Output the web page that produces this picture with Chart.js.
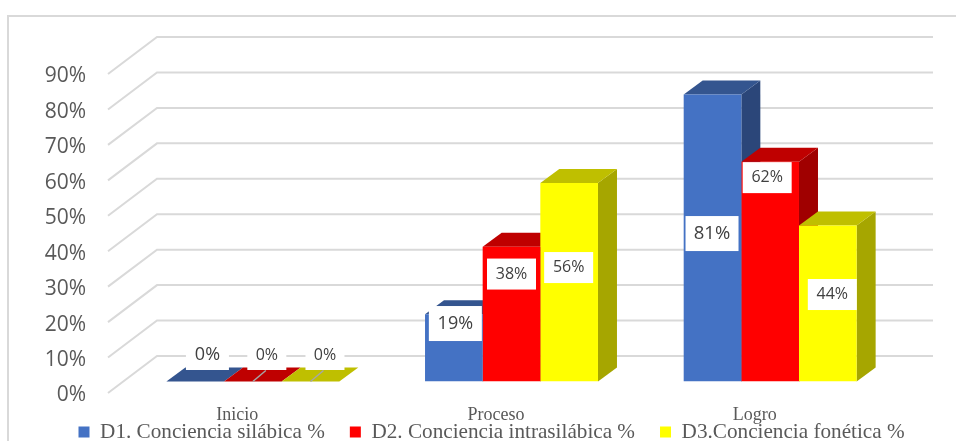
<!DOCTYPE html>
<html><head><meta charset="utf-8">
<style>
html,body{margin:0;padding:0;background:#fff;overflow:hidden}
#wrap{position:relative;width:956px;height:441px;overflow:hidden}
#frame{position:absolute;left:7px;top:15px;width:1000px;height:500px;border:2px solid #d9d9d9;box-sizing:content-box}
canvas{position:absolute;left:0;top:0;display:block}
</style>
<script src="https://cdn.jsdelivr.net/npm/chart.js@4"></script>
</head><body>
<div id="wrap"><div id="frame"></div><canvas id="c" width="956" height="441"></canvas></div>
<script>
const categories = ['Inicio', 'Proceso', 'Logro'];
const seriesNames = ['D1. Conciencia silábica %', 'D2. Conciencia intrasilábica %', 'D3.Conciencia fonética %'];
const d1Values = [0, 19, 81];
const d2Values = [0, 38, 62];
const d3Values = [0, 56, 44];
const yTicksMax = 90;

const frontColors = ['#4472C4', '#FF0000', '#FFFF00'];
const topColors = ['#34558F', '#BF0000', '#BFBF00'];
const sideColors = ['#2B4679', '#A00000', '#A6A600'];
const gridColor = '#D9D9D9';
const textColor = '#595959';

// 3D geometry: the axis labels sit slightly below the plane of the gridlines
const labelDrop = 2.5;
const floorDepth = {x: 49, y: -37};
const barShift = {x: 15.5, y: -11.5 - labelDrop};
const barDepth = {x: 19, y: -14};

// label placement relative to the middle of each bar's front [dataset][category]
const labelDx = [[12.25, 1.5, -0.5], [14, 0, -3], [14.5, -0.5, 4.5]];
const labelDy = [[-26.5, -24.3, -4.4], [-26.5, -40.1, -94], [-26.5, -14.7, -9]];
const labelFont = [[18, 18, 18.5], [16, 16, 16], [16, 16, 16]];
const labelBoxW = [[43, 53, 53], [39, 49, 49], [39, 49, 49]];
const labelBoxH = [[30, 35, 35], [30, 31, 31], [30, 31, 31]];

const depthPlugin = {
  id: 'depth3d',
  beforeDatasetsDraw(chart) {
    const {ctx, scales: {x, y}} = chart;
    ctx.save();
    ctx.strokeStyle = gridColor;
    ctx.lineWidth = 2;
    y.ticks.forEach(t => {
      const py = y.getPixelForValue(t.value) - labelDrop;
      ctx.beginPath();
      ctx.moveTo(x.left, py);
      ctx.lineTo(x.left + floorDepth.x, py + floorDepth.y);
      ctx.lineTo(x.right + floorDepth.x, py + floorDepth.y);
      ctx.stroke();
    });
    ctx.restore();
    ctx.save();
    ctx.translate(barShift.x, barShift.y);
    chart.data.datasets.forEach((ds, i) => {
      chart.getDatasetMeta(i).data.forEach(bar => {
        const {x: cx, y: ty, base, width} = bar.getProps(['x', 'y', 'base', 'width'], true);
        const l = cx - width / 2, r = cx + width / 2;
        ctx.fillStyle = sideColors[i];
        ctx.beginPath();
        ctx.moveTo(r, ty);
        ctx.lineTo(r + barDepth.x, ty + barDepth.y);
        ctx.lineTo(r + barDepth.x, base + barDepth.y);
        ctx.lineTo(r, base);
        ctx.closePath();
        ctx.fill();
        ctx.fillStyle = topColors[i];
        ctx.beginPath();
        ctx.moveTo(l, ty);
        ctx.lineTo(l + barDepth.x, ty + barDepth.y);
        ctx.lineTo(r + barDepth.x, ty + barDepth.y);
        ctx.lineTo(r, ty);
        ctx.closePath();
        ctx.fill();
      });
    });
    ctx.restore();
    ctx.save();
    ctx.translate(barShift.x, barShift.y);
  },
  afterDatasetsDraw(chart) {
    const {ctx} = chart;
    ctx.restore();
    ctx.save();
    ctx.translate(barShift.x, barShift.y);
    ctx.textAlign = 'center';
    ctx.textBaseline = 'middle';
    chart.data.datasets.forEach((ds, i) => {
      chart.getDatasetMeta(i).data.forEach((bar, j) => {
        const {x: cx, base} = bar.getProps(['x', 'base'], true);
        if (ds.data[j] === 0 && i > 0) {
          ctx.strokeStyle = '#A6A6A6';
          ctx.lineWidth = 1.5;
          ctx.beginPath();
          ctx.moveTo(cx, base);
          ctx.lineTo(cx + 13, base - 11);
          ctx.stroke();
        }
      });
    });
    chart.data.datasets.forEach((ds, i) => {
      chart.getDatasetMeta(i).data.forEach((bar, j) => {
        const {x: cx, y: ty, base} = bar.getProps(['x', 'y', 'base'], true);
        const lx = cx + labelDx[i][j];
        const ly = (ty + base) / 2 + labelDy[i][j];
        const w = labelBoxW[i][j], h = labelBoxH[i][j];
        ctx.fillStyle = '#FFFFFF';
        ctx.fillRect(lx - w / 2, ly - h / 2, w, h);
        ctx.fillStyle = '#404040';
        ctx.font = labelFont[i][j] + 'px "Open Sans"';
        ctx.fillText(ds.data[j] + '%', lx, ly);
      });
    });
    ctx.restore();
  }
};

const legendPlacement = {
  id: 'legendPlacement',
  beforeLayout(chart) {
    const lg = chart.legend;
    if (lg && !lg.__wrapped) {
      const fit = lg.fit.bind(lg);
      lg.fit = function () { this.maxWidth = chart.width; fit(); this.height = 10; };
      lg.__wrapped = true;
    }
  },
  afterLayout(chart) {
    const lg = chart.legend;
    const pad = chart.options.plugins.legend.labels.padding;
    lg.left = 78.5 - pad;
    lg.right = chart.width;
    lg.top = 421.5 - pad;
  }
};

new Chart(document.getElementById('c'), {
  type: 'bar',
  data: {
    labels: categories,
    datasets: [d1Values, d2Values, d3Values].map((values, i) => ({
      label: seriesNames[i],
      data: values,
      backgroundColor: frontColors[i],
      borderWidth: 0
    }))
  },
  options: {
    responsive: false,
    animation: false,
    devicePixelRatio: 1,
    layout: {padding: {left: 0, right: 72, top: 74 + labelDrop, bottom: 0}},
    datasets: {bar: {categoryPercentage: 172.5 / 258, barPercentage: 1}},
    scales: {
      x: {
        grid: {display: false, drawTicks: false},
        border: {display: false},
        ticks: {color: textColor, padding: 8.5, font: {family: '"Liberation Serif"', size: 18}, maxRotation: 0},
        afterFit(s) { s.height = 38 - labelDrop; }
      },
      y: {
        min: 0,
        max: yTicksMax,
        grid: {display: false, drawTicks: false},
        border: {display: false},
        ticks: {
          stepSize: 10,
          color: textColor,
          padding: 22,
          font: {family: '"Open Sans"', size: 21},
          callback: v => v + '%'
        },
        afterFit(s) { s.width = 108; }
      }
    },
    plugins: {
      tooltip: {enabled: false},
      legend: {
        position: 'bottom',
        align: 'start',
        labels: {
          color: textColor,
          boxWidth: 11,
          boxHeight: 11,
          padding: 25,
          font: {family: '"Liberation Serif"', size: 21.2}
        }
      }
    }
  },
  plugins: [depthPlugin, legendPlacement]
});
</script>
</body></html>
